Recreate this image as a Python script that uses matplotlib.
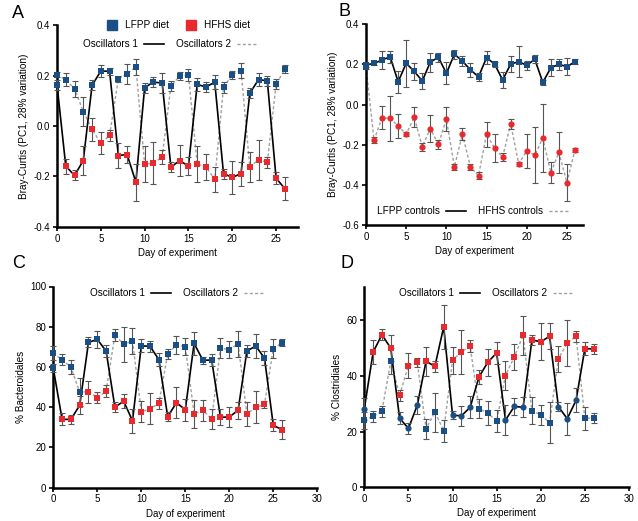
import matplotlib
matplotlib.use("Agg")
import matplotlib.pyplot as plt
from matplotlib.lines import Line2D
import numpy as np

plt.rcParams["font.family"] = ["Liberation Sans", "DejaVu Sans"]

BLUE = "#1a4f85"
RED = "#e8292e"
W, H = 638, 521

days = np.arange(27)

# diet per day, L = LFPP, H = HFHS
osc1_diet = list("LHHHLLLHHHLLLHHHLLLHHHLLLHH")
osc2_diet = list("LLLLHHHLLLHHHLLLHHHLLLHHHLL")
ctrl_lfpp_diet = list("L" * 27)
ctrl_hfhs_diet = list("L" + "H" * 26)

# panel A: Bray-Curtis PC1, oscillators
a_osc1 = [0.165, -0.159, -0.196, -0.137, 0.162, 0.219, 0.218, -0.117, -0.113, -0.223,
          0.153, 0.175, 0.171, -0.163, -0.137, -0.159, 0.166, 0.155, 0.175, -0.189,
          -0.204, -0.189, 0.131, 0.185, 0.180, -0.207, -0.249]
a_osc1_err = [0.02, 0.03, 0.02, 0.057, 0.02, 0.022, 0.013, 0.05, 0.035, 0.073, 0.02, 0.02,
              0.04, 0.02, 0.063, 0.037, 0.026, 0.02, 0.028, 0.02, 0.065, 0.048, 0.02, 0.025,
              0.02, 0.025, 0.046]
a_osc2 = [0.204, 0.185, 0.148, 0.058, -0.013, -0.068, -0.037, 0.188, 0.208, 0.235,
          -0.151, -0.147, -0.123, 0.159, 0.199, 0.204, -0.151, -0.162, -0.212, 0.155,
          0.204, 0.221, -0.162, -0.134, -0.144, 0.166, 0.226]
a_osc2_err = [0.01, 0.025, 0.033, 0.056, 0.047, 0.043, 0.022, 0.013, 0.04, 0.033, 0.073,
              0.083, 0.028, 0.02, 0.017, 0.025, 0.073, 0.053, 0.05, 0.022, 0.015, 0.028,
              0.06, 0.08, 0.023, 0.02, 0.015]

# panel B: Bray-Curtis PC1, controls
b_lfpp = [0.197, 0.206, 0.222, 0.239, 0.114, 0.206, 0.166, 0.118, 0.212, 0.236, 0.156,
          0.251, 0.217, 0.173, 0.139, 0.234, 0.202, 0.123, 0.202, 0.214, 0.196, 0.226,
          0.111, 0.184, 0.201, 0.189, 0.214]
b_lfpp_err = [0.01, 0.01, 0.046, 0.03, 0.054, 0.116, 0.043, 0.039, 0.047, 0.022, 0.054,
              0.023, 0.025, 0.033, 0.02, 0.031, 0.012, 0.041, 0.038, 0.076, 0.023, 0.021,
              0.012, 0.043, 0.027, 0.041, 0.013]
b_hfhs = [0.19, -0.176, -0.065, -0.068, -0.106, -0.146, -0.063, -0.209, -0.119, -0.197,
          -0.073, -0.308, -0.147, -0.310, -0.353, -0.146, -0.217, -0.260, -0.096, -0.294,
          -0.230, -0.250, -0.167, -0.338, -0.237, -0.388, -0.225]
b_hfhs_err = [0.01, 0.013, 0.058, 0.113, 0.062, 0.012, 0.05, 0.02, 0.069, 0.023, 0.06,
              0.015, 0.029, 0.017, 0.016, 0.062, 0.069, 0.021, 0.027, 0.01, 0.083, 0.141,
              0.17, 0.054, 0.102, 0.093, 0.01]

# panel C: % Bacteroidales
c_osc1 = [59.3, 33.9, 33.9, 40.9, 72.2, 73.7, 67.9, 40.0, 42.9, 33.2, 70.5, 70.2, 63.6,
          35.3, 42.2, 38.7, 71.7, 63.3, 63.4, 34.9, 35.1, 38.4, 67.9, 70.4, 64.4, 30.9, 28.8]
c_osc1_err = [2.0, 3.0, 2.3, 4.5, 2.5, 4.1, 3.1, 2.6, 3.5, 6.0, 3.2, 2.8, 3.1, 2.3, 7.6,
              5.4, 5.6, 1.7, 3.0, 4.0, 5.0, 4.3, 3.1, 6.0, 3.7, 3.0, 4.6]
c_osc2 = [66.8, 63.6, 59.8, 47.4, 47.7, 44.7, 47.9, 75.9, 71.2, 72.9, 37.7, 39.1, 41.9,
          66.4, 70.9, 70.1, 36.7, 38.4, 34.1, 69.4, 68.6, 71.5, 36.6, 39.9, 41.4, 69.1, 72.0]
c_osc2_err = [3.6, 2.9, 3.5, 7.0, 5.5, 2.8, 2.9, 3.0, 8.7, 6.5, 5.3, 7.7, 2.8, 2.6, 4.4,
              4.3, 7.0, 5.2, 4.9, 5.0, 4.1, 6.5, 5.8, 7.9, 1.8, 4.8, 1.8]

# panel D: % Clostridiales
d_osc1 = [28.1, 48.5, 54.8, 49.9, 24.8, 21.1, 29.4, 45.2, 43.4, 57.6, 25.9, 25.6, 28.7,
          39.6, 44.9, 48.2, 24.1, 29.0, 28.7, 52.9, 52.2, 54.2, 28.9, 24.6, 31.2, 49.8, 49.6]
d_osc1_err = [4.0, 4.2, 1.9, 4.6, 2.1, 2.0, 3.2, 5.1, 2.0, 7.8, 1.3, 3.7, 3.9, 2.5, 4.8,
              4.1, 5.5, 3.2, 3.6, 1.9, 6.6, 4.7, 1.7, 5.7, 4.3, 2.3, 1.7]
d_osc2 = [24.0, 25.4, 27.3, 45.2, 33.0, 43.7, 44.8, 21.0, 27.0, 20.3, 45.6, 48.6, 50.6,
          28.2, 26.6, 23.7, 40.1, 46.8, 54.5, 27.5, 26.0, 23.2, 46.1, 51.8, 54.2, 24.7, 24.9]
d_osc2_err = [3.0, 2.0, 2.0, 4.7, 1.9, 4.4, 1.7, 3.6, 7.0, 4.0, 4.8, 8.0, 2.2, 3.3, 4.2,
              4.0, 5.1, 4.8, 6.9, 4.8, 3.6, 7.4, 4.6, 8.4, 2.0, 4.0, 1.7]

SOLID = dict(color="black", lw=1.2, ls="-")
DASHED = dict(color="#a0a0a0", lw=1.0, ls=(0, (2.2, 1.6)))


def px_rect(left, top, right, bottom):
    return [left / W, 1 - bottom / H, (right - left) / W, (bottom - top) / H]


def style_axes(ax, xlim, ylim, xticks, yticks, ylabel):
    ax.set_xlim(*xlim)
    ax.set_ylim(*ylim)
    ax.set_xticks(xticks)
    ax.set_yticks(yticks)
    for s in ("top", "right"):
        ax.spines[s].set_visible(False)
    for s in ("left", "bottom"):
        ax.spines[s].set_linewidth(1.8)
    ax.tick_params(direction="out", length=3, width=1.2, pad=2, labelsize=7)
    ax.set_xlabel("Day of experiment", fontsize=7, labelpad=3)
    ax.set_ylabel(ylabel, fontsize=7.2, labelpad=3)


def draw_series(ax, y, err, diet, line, markers=None):
    markers = markers or {"L": "s", "H": "s"}
    ax.plot(days, y, zorder=2, clip_on=False, **line)
    ax.errorbar(days, y, yerr=err, fmt="none", ecolor="#555555", elinewidth=0.8,
                capsize=2, capthick=0.8, zorder=3, clip_on=False)
    diet = np.array(diet)
    y = np.array(y)
    for key, col in (("L", BLUE), ("H", RED)):
        m = diet == key
        ax.scatter(days[m], y[m], marker=markers[key], s=20, color=col, lw=0,
                   zorder=4, clip_on=False)


def line_legend(ax, labels, lines, cx, cy):
    handles = [Line2D([], [], **l) for l in lines]
    ax.legend(handles, labels, ncol=2, frameon=False, markerfirst=False, fontsize=7.2,
              handlelength=2.0, handletextpad=0.6, columnspacing=1.2, loc="center",
              bbox_to_anchor=(cx / W, 1 - cy / H), bbox_transform=fig.transFigure)


fig = plt.figure(figsize=(W / 100, H / 100), dpi=100)

bc_label = "Bray-Curtis (PC1, 28% variation)"

# A
ax = fig.add_axes(px_rect(57, 25.5, 298, 226.7))
style_axes(ax, (0, 27.5), (-0.4, 0.4), range(0, 26, 5), [-0.4, -0.2, 0.0, 0.2, 0.4], bc_label)
ax.set_yticklabels(["-0.4", "-0.2", "0.0", "0.2", "0.4"])
draw_series(ax, a_osc2, a_osc2_err, osc2_diet, DASHED)
draw_series(ax, a_osc1, a_osc1_err, osc1_diet, SOLID)
line_legend(ax, ["Oscillators 1", "Oscillators 2"], [SOLID, DASHED], 170, 44)
diet_handles = [Line2D([], [], marker="s", ls="none", color=c, markersize=7) for c in (BLUE, RED)]
fig.legend(diet_handles, ["LFPP diet", "HFHS diet"], ncol=2, frameon=False, fontsize=7.2,
           handletextpad=0.3, columnspacing=1.2, loc="center",
           bbox_to_anchor=(176 / W, 1 - 25 / H))

# B
ax = fig.add_axes(px_rect(366, 24.3, 583, 225.3))
style_axes(ax, (0, 27), (-0.6, 0.4), range(0, 26, 5), [-0.6, -0.4, -0.2, 0.0, 0.2, 0.4], bc_label)
ax.set_yticklabels(["-0.6", "-0.4", "-0.2", "0.0", "0.2", "0.4"])
draw_series(ax, b_hfhs, b_hfhs_err, ctrl_hfhs_diet, DASHED, {"L": "s", "H": "o"})
draw_series(ax, b_lfpp, b_lfpp_err, ctrl_lfpp_diet, SOLID)
line_legend(ax, ["LFPP controls", "HFHS controls"], [SOLID, DASHED], 473, 211)

# C
ax = fig.add_axes(px_rect(53.3, 286.5, 317.3, 487.5))
style_axes(ax, (0, 30), (0, 100), range(0, 31, 5), range(0, 101, 20), "% Bacteroidales")
draw_series(ax, c_osc2, c_osc2_err, osc2_diet, DASHED)
draw_series(ax, c_osc1, c_osc1_err, osc1_diet, SOLID)
line_legend(ax, ["Oscillators 1", "Oscillators 2"], [SOLID, DASHED], 177, 293)

# D
ax = fig.add_axes(px_rect(364.3, 286.7, 629, 487.2))
style_axes(ax, (0, 30), (0, 72), range(0, 31, 5), range(0, 61, 20), "% Clostridiales")
draw_series(ax, d_osc2, d_osc2_err, osc2_diet, DASHED)
draw_series(ax, d_osc1, d_osc1_err, osc1_diet, SOLID, {"L": "o", "H": "s"})
line_legend(ax, ["Oscillators 1", "Oscillators 2"], [SOLID, DASHED], 486, 293)

for letter, x, y in (("A", 12, 14), ("B", 338, 12), ("C", 12, 263), ("D", 340, 263)):
    fig.text(x / W, 1 - y / H, letter, fontsize=13, va="center", ha="left")

fig.savefig("out.png", dpi=100)
